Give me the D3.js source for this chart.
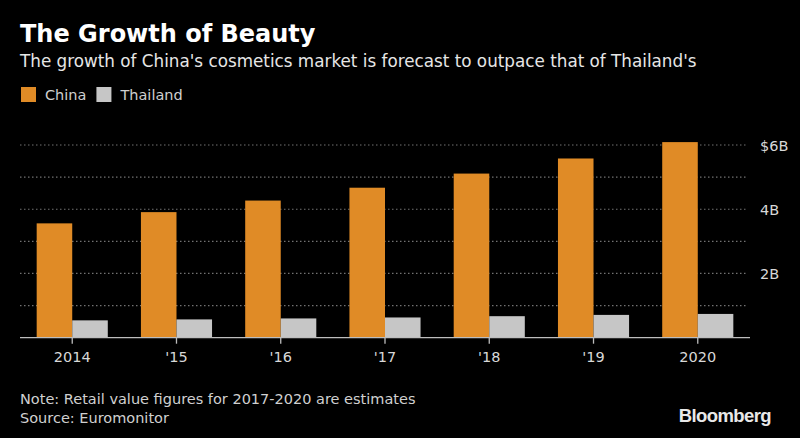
<!DOCTYPE html>
<html><head><meta charset="utf-8">
<script src="https://cdn.jsdelivr.net/npm/d3@7"></script>
<style>html,body{margin:0;padding:0;background:#000;}svg{display:block;}</style>
</head><body>
<script>
const years = ["2014","'15","'16","'17","'18","'19","2020"];
const china = [3.56, 3.91, 4.27, 4.67, 5.11, 5.58, 6.09];
const thailand = [0.54, 0.57, 0.60, 0.63, 0.67, 0.71, 0.74];
const seriesNames = ["China", "Thailand"];
const seriesColors = ["#e08b26", "#c6c6c6"];
const gridValues = [1, 2, 3, 4, 5, 6];
const tickValues = [2, 4, 6];
const tickLabels = ["2B", "4B", "$6B"];

const W = 800, H = 438;
const font = "'DejaVu Sans', Verdana, sans-serif";
const svg = d3.select("body").append("svg").attr("width", W).attr("height", H)
  .style("background", "#000");

svg.append("text").attr("x", 20).attr("y", 42).text("The Growth of Beauty")
  .attr("fill", "#fff").attr("font-family", font).attr("font-weight", "bold").attr("font-size", 24);
svg.append("text").attr("x", 20).attr("y", 67)
  .text("The growth of China's cosmetics market is forecast to outpace that of Thailand's")
  .attr("fill", "#e6e6e6").attr("font-family", font).attr("font-size", 16.8);

const leg = svg.append("g");
let lx = 21;
seriesNames.forEach((n, i) => {
  leg.append("rect").attr("x", lx).attr("y", 87).attr("width", 15).attr("height", 15).attr("fill", seriesColors[i]);
  const t = leg.append("text").attr("x", lx + 24).attr("y", 100).text(n)
    .attr("fill", "#cfcfcf").attr("font-family", font).attr("font-size", 14.5);
  lx = lx + 24 + t.node().getComputedTextLength() + 10;
});

const x0 = d3.scaleBand().domain(years).range([20, 750]).paddingInner(0.318).paddingOuter(0.16);
const x1 = d3.scaleBand().domain(seriesNames).range([0, x0.bandwidth()]);
const y = d3.scaleLinear().domain([0, 6]).range([337.7, 145]);

// gridlines
svg.append("g").selectAll("line").data(gridValues).join("line")
  .attr("x1", 20).attr("x2", 748).attr("y1", d => y(d)).attr("y2", d => y(d))
  .attr("stroke", "#727272").attr("stroke-width", 1.2).attr("stroke-dasharray", "1.5,2.5");

// right axis labels
svg.append("g").selectAll("text").data(tickValues).join("text")
  .attr("x", 760).attr("y", d => y(d) + 5.5).text((d, i) => tickLabels[i])
  .attr("fill", "#d8d8d8").attr("font-family", font).attr("font-size", 14.5);

// bars
const data = years.map((yr, i) => ({ yr, vals: [china[i], thailand[i]] }));
const g = svg.append("g").selectAll("g").data(data).join("g")
  .attr("transform", d => `translate(${x0(d.yr)},0)`);
g.selectAll("rect").data(d => d.vals.map((v, i) => ({ v, s: seriesNames[i], c: seriesColors[i] }))).join("rect")
  .attr("x", d => x1(d.s)).attr("width", x1.bandwidth())
  .attr("y", d => y(d.v)).attr("height", d => y(0) - y(d.v)).attr("fill", d => d.c);

// x axis
const xa = svg.append("g").attr("transform", `translate(0,${y(0)})`)
  .call(d3.axisBottom(x0).tickSize(6).tickSizeOuter(0));
xa.select(".domain").attr("stroke", "#bdbdbd").attr("stroke-width", 1.3).attr("d", "M20,0H750");
xa.selectAll(".tick line").attr("stroke", "#bdbdbd").attr("stroke-width", 1.3);
xa.selectAll(".tick text").attr("fill", "#d8d8d8").attr("font-family", font).attr("font-size", 14.5).attr("dy", "1.05em");

svg.append("text").attr("x", 20).attr("y", 404).text("Note: Retail value figures for 2017-2020 are estimates")
  .attr("fill", "#d0d0d0").attr("font-family", font).attr("font-size", 14.5);
svg.append("text").attr("x", 20).attr("y", 423).text("Source: Euromonitor")
  .attr("fill", "#d0d0d0").attr("font-family", font).attr("font-size", 14.5);
svg.append("text").attr("x", 771).attr("y", 422).attr("text-anchor", "end").text("Bloomberg")
  .attr("fill", "#e8e8e8").attr("font-family", "'Liberation Sans', Arial, sans-serif").attr("font-weight", "bold")
  .attr("font-size", 18.5).attr("letter-spacing", -0.6);
</script>
</body></html>
